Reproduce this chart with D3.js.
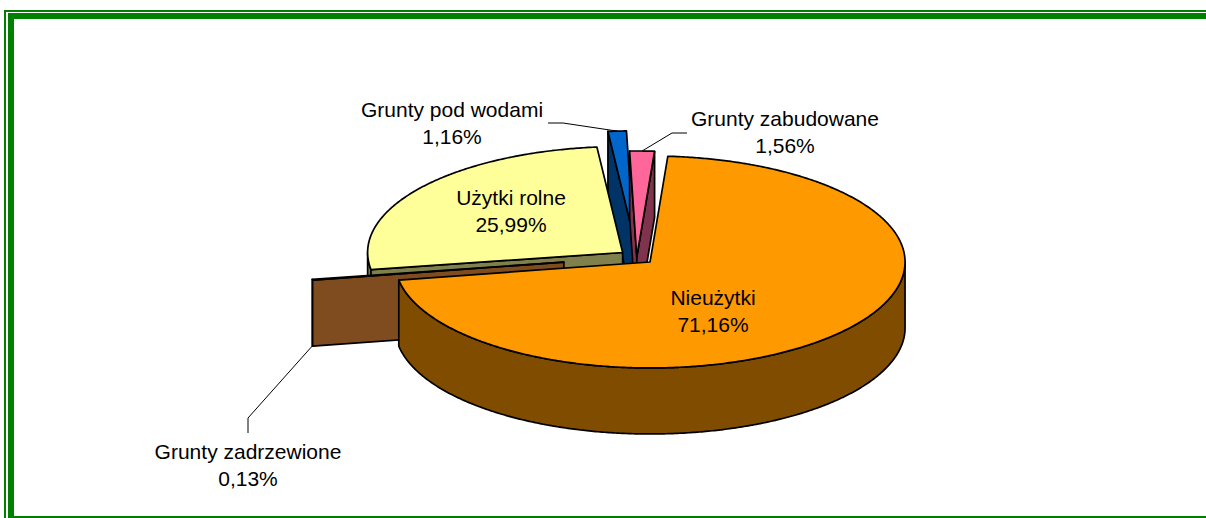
<!DOCTYPE html>
<html>
<head>
<meta charset="utf-8">
<script src="https://cdn.jsdelivr.net/npm/d3@7"></script>
<style>
body { margin: 0; background: #fff; }
svg { display: block; }
text { font-family: "Liberation Sans", Arial, sans-serif; font-size: 21px; fill: #000; }
</style>
</head>
<body>
<svg id="chart" width="1206" height="518"></svg>
<script>
"use strict";

// Data (clockwise from the first slice)
var names = ["Nieużytki", "Grunty zadrzewione", "Użytki rolne", "Grunty pod wodami", "Grunty zabudowane"];
var values = [71.16, 0.13, 25.99, 1.16, 1.56];
var explode = [0.07, 0.29, 0.07, 0.19, 0];
var topColors = ["#FF9900", "#9C5B26", "#FFFF99", "#0066CC", "#FF6699"];
var sideColors = ["#804C00", "#7F4C1F", "#80804C", "#003366", "#80334C"];

var CX = 636.8, CY = 257;   // pie centre (top face)
var RX = 255, RY = 106;     // ellipse radii
var DEPTH = 66;             // pie thickness
var START = 4;              // first slice angle, degrees

// label layout: text centre x, first baseline, leader points (elbow first)
var layout = [
    { x: 713, y: 305, leader: null },
    { x: 248, y: 459, leader: [[248, 433], [248, 418]], bottom: true },
    { x: 511, y: 205, leader: null },
    { x: 452, y: 117, leader: [[548, 123], [563, 123]] },
    { x: 785, y: 126, leader: [[687, 133], [672, 133]] }
];

var svg = d3.select("#chart");

// Frame
svg.append("rect")
    .attr("x", 5).attr("y", 11).attr("width", 1230).attr("height", 540)
    .attr("fill", "none").attr("stroke", "#008000").attr("stroke-width", 2);
svg.append("rect")
    .attr("x", 11).attr("y", 16).attr("width", 1215).attr("height", 503)
    .attr("fill", "none").attr("stroke", "#008000").attr("stroke-width", 6);

var a0 = START * Math.PI / 180;
var pie = d3.pie().sort(null).startAngle(a0).endAngle(a0 + 2 * Math.PI);
var arcs = pie(values);

arcs.forEach(function (d, i) {
    d.i = i;
    d.mid = (d.startAngle + d.endAngle) / 2;
    d.ox = explode[i] * RX * Math.sin(d.mid);
    d.oy = -explode[i] * RY * Math.cos(d.mid);
    d.depthKey = Math.cos(d.mid) * (0.5 + explode[i]);
});

function pt(d, a, r, z) {
    return [CX + d.ox + RX * r * Math.sin(a), CY + d.oy - RY * r * Math.cos(a) + z];
}

function arcPts(d, s, e, z) {
    var n = Math.max(2, Math.ceil(Math.abs(e - s) / (Math.PI / 360)));
    var p = [];
    for (var k = 0; k <= n; k++) {
        p.push(pt(d, s + (e - s) * k / n, 1, z));
    }
    return p;
}

var polyLine = d3.line().curve(d3.curveLinearClosed);

function face(g, pts, fill) {
    g.append("path")
        .attr("d", polyLine(pts))
        .attr("fill", fill)
        .attr("stroke", "#000")
        .attr("stroke-width", 1.7)
        .attr("stroke-linejoin", "round");
}

// back slices first
var order = arcs.slice().sort(function (a, b) { return b.depthKey - a.depthKey; });
var plot = svg.append("g");

order.forEach(function (d) {
    var g = plot.append("g").attr("class", "slice");
    var s = d.startAngle, e = d.endAngle;
    var apex = pt(d, 0, 0, 0);

    // outer wall, front half only
    [0, 2 * Math.PI].forEach(function (shift) {
        var lo = Math.max(s, Math.PI / 2 + shift);
        var hi = Math.min(e, 3 * Math.PI / 2 + shift);
        if (hi > lo) {
            face(g, arcPts(d, lo, hi, 0).concat(arcPts(d, hi, lo, DEPTH)), sideColors[d.i]);
        }
    });

    // radial faces
    if (Math.sin(s) < 0) {
        var o = pt(d, s, 1, 0);
        face(g, [apex, o, [o[0], o[1] + DEPTH], [apex[0], apex[1] + DEPTH]], sideColors[d.i]);
    }
    if (Math.sin(e) > 0) {
        var o2 = pt(d, e, 1, 0);
        face(g, [apex, o2, [o2[0], o2[1] + DEPTH], [apex[0], apex[1] + DEPTH]], sideColors[d.i]);
    }

    // top
    face(g, [apex].concat(arcPts(d, s, e, 0)), topColors[d.i]);
});

// Labels
function pct(v) {
    return v.toFixed(2).replace(".", ",") + "%";
}

arcs.forEach(function (d) {
    var l = layout[d.i];
    if (l.leader) {
        var target = pt(d, d.mid, 1, l.bottom ? DEPTH : 0);
        svg.append("path")
            .attr("d", d3.line()(l.leader.concat([target])))
            .attr("fill", "none")
            .attr("stroke", "#000")
            .attr("stroke-width", 1);
    }
    var t = svg.append("text").attr("text-anchor", "middle");
    t.append("tspan").attr("x", l.x).attr("y", l.y).text(names[d.i]);
    t.append("tspan").attr("x", l.x).attr("y", l.y + 27).text(pct(values[d.i]));
});
</script>
</body>
</html>
